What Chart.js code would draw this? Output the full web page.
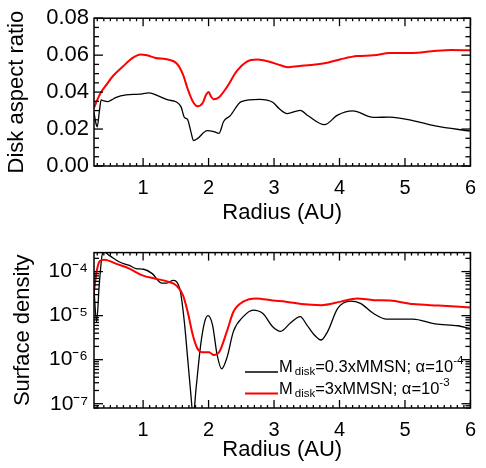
<!DOCTYPE html>
<html>
<head>
<meta charset="utf-8">
<script src="https://cdn.jsdelivr.net/npm/chart.js@4/dist/chart.umd.min.js"></script>
<style>
  body { margin: 0; background: #fff; }
  .panel { position: absolute; left: 0; width: 486px; height: 234px; }
</style>
</head>
<body>
<div class="panel" style="top:0"><canvas id="aspectChart" width="486" height="234"></canvas></div>
<div class="panel" style="top:234px"><canvas id="densityChart" width="486" height="234"></canvas></div>
<script>
// radius ticks (AU)
const radiusTicks = [1, 2, 3, 4, 5, 6];
const aspectTicks = [0, 0.02, 0.04, 0.06, 0.08];
const densityTicks = [1e-7, 1e-6, 1e-5, 1e-4];

// disk aspect ratio, M = 0.3 MMSN, alpha = 1e-4 (black)
const aspectRLow = [0.25, 0.28, 0.30, 0.33, 0.36, 0.40, 0.46, 0.52, 0.59, 0.74, 0.94, 1.09, 1.24, 1.38, 1.51, 1.58, 1.63, 1.68, 1.73, 1.77, 1.83, 1.98, 2.08, 2.16, 2.23, 2.33, 2.50, 2.78, 2.98, 3.08, 3.20, 3.40, 3.52, 3.77, 3.97, 4.20, 4.52, 4.77, 5.12, 5.46, 6.00];
const aspectLow = [0.0289, 0.0230, 0.0212, 0.0290, 0.0358, 0.0352, 0.0348, 0.0358, 0.0372, 0.0385, 0.0389, 0.0396, 0.0378, 0.0358, 0.0346, 0.0320, 0.0263, 0.0251, 0.0186, 0.0138, 0.0148, 0.0191, 0.0186, 0.0177, 0.0241, 0.0272, 0.0349, 0.0361, 0.0345, 0.0310, 0.0284, 0.0301, 0.0272, 0.0224, 0.0275, 0.0298, 0.0263, 0.0265, 0.0246, 0.0217, 0.0189];

// disk aspect ratio, M = 3 MMSN, alpha = 1e-3 (red)
const aspectRHigh = [0.25, 0.30, 0.36, 0.45, 0.54, 0.69, 0.84, 0.96, 1.06, 1.19, 1.38, 1.51, 1.61, 1.68, 1.76, 1.83, 1.91, 1.96, 2.00, 2.04, 2.08, 2.16, 2.28, 2.43, 2.58, 2.75, 2.93, 3.10, 3.22, 3.42, 3.77, 4.02, 4.27, 4.52, 4.77, 5.12, 5.41, 5.71, 6.00];
const aspectHigh = [0.0315, 0.0358, 0.0400, 0.0445, 0.0487, 0.0538, 0.0585, 0.0604, 0.0599, 0.0585, 0.0576, 0.0556, 0.0495, 0.0418, 0.0349, 0.0323, 0.0341, 0.0384, 0.0401, 0.0375, 0.0361, 0.0372, 0.0427, 0.0513, 0.0564, 0.0576, 0.0564, 0.0545, 0.0535, 0.0542, 0.0556, 0.0578, 0.0595, 0.0599, 0.0611, 0.0612, 0.0621, 0.0628, 0.0626];

// surface density, black
const densityRLow = [0.25, 0.29, 0.33, 0.37, 0.40, 0.49, 0.64, 0.79, 0.89, 1.01, 1.14, 1.28, 1.36, 1.46, 1.51, 1.57, 1.63, 1.68, 1.73, 1.765, 1.81, 1.88, 1.94, 1.99, 2.06, 2.13, 2.20, 2.28, 2.38, 2.53, 2.68, 2.83, 2.98, 3.10, 3.25, 3.40, 3.50, 3.62, 3.72, 3.82, 3.97, 4.17, 4.32, 4.52, 4.72, 5.12, 5.46, 5.81, 6.00];
const densityLow = [3.8e-5, 7.2e-6, 5e-5, 2.2e-4, 2.8e-4, 2.3e-4, 1.65e-4, 1.38e-4, 1.17e-4, 1.13e-4, 9e-5, 5.5e-5, 5.5e-5, 6.3e-5, 5.9e-5, 3.5e-5, 7.2e-6, 1.1e-6, 1.6e-7, 5e-8, 2.3e-7, 2.2e-6, 7.2e-6, 1.0e-5, 6.2e-6, 1.3e-6, 6.2e-7, 1.1e-6, 4.4e-6, 9.5e-6, 1.34e-5, 1.12e-5, 5.6e-6, 4.4e-6, 6.8e-6, 9.5e-6, 6.2e-6, 3.6e-6, 2.8e-6, 4.4e-6, 1.45e-5, 2.14e-5, 1.9e-5, 1.12e-5, 8.3e-6, 8.3e-6, 6.5e-6, 5.9e-6, 5.1e-6];

// surface density, red
const densityRHigh = [0.25, 0.29, 0.34, 0.41, 0.59, 0.79, 0.99, 1.19, 1.38, 1.51, 1.61, 1.68, 1.76, 1.83, 1.91, 2.01, 2.08, 2.16, 2.28, 2.38, 2.53, 2.73, 2.98, 3.18, 3.42, 3.72, 4.02, 4.27, 4.52, 4.77, 5.12, 5.51, 6.00];
const densityHigh = [3.5e-5, 1.0e-4, 1.74e-4, 1.87e-4, 1.5e-4, 1.17e-4, 8.2e-5, 6.9e-5, 5.9e-5, 4.8e-5, 2.9e-5, 1.24e-5, 3.6e-6, 1.8e-6, 1.47e-6, 1.47e-6, 1.28e-6, 1.47e-6, 4.4e-6, 1.23e-5, 2.08e-5, 2.46e-5, 2.2e-5, 2.08e-5, 1.83e-5, 1.73e-5, 2.08e-5, 2.46e-5, 2.25e-5, 2.2e-5, 1.83e-5, 1.69e-5, 1.54e-5];

// legend text pieces: [main, subscript, main, superscript]
const legendLow = ['M', 'disk', '=0.3xMMSN; \u03b1=10', '-4'];
const legendHigh = ['M', 'disk', '=3xMMSN; \u03b1=10', '-3'];

const FONT = "'Liberation Sans', Arial, Helvetica, sans-serif";
const SUP = { '-': '\u207b', '0': '\u2070', '1': '\u00b9', '2': '\u00b2', '3': '\u00b3', '4': '\u2074', '5': '\u2075', '6': '\u2076', '7': '\u2077', '8': '\u2078', '9': '\u2079' };

function zip(xs, ys) {
  return xs.map((x, i) => ({ x: x, y: ys[i] }));
}

function line(ctx, x1, y1, x2, y2) {
  ctx.beginPath();
  ctx.moveTo(x1, y1);
  ctx.lineTo(x2, y2);
  ctx.stroke();
}

// box around the plot with inward ticks like the original
const frame = {
  id: 'frame',
  afterDraw(chart, args, opts) {
    const { ctx, chartArea: a, scales: { x, y } } = chart;
    ctx.save();
    ctx.strokeStyle = '#000';
    ctx.lineWidth = 1.3;
    for (let i = Math.ceil(x.min * 10); i <= Math.floor(x.max * 10 + 1e-6); i++) {
      const px = x.getPixelForValue(i / 10);
      const len = i % 10 === 0 ? 8 : 3;
      line(ctx, px, a.bottom, px, a.bottom - len);
      line(ctx, px, a.top, px, a.top + len);
    }
    for (const t of opts.yTicks(y)) {
      const py = y.getPixelForValue(t.v);
      if (py < a.top - 0.5 || py > a.bottom + 0.5) continue;
      const len = t.major ? 9 : 5;
      line(ctx, a.left, py, a.left + len, py);
      line(ctx, a.right, py, a.right - len, py);
    }
    ctx.lineWidth = 1.5;
    ctx.strokeRect(a.left, a.top, a.right - a.left, a.bottom - a.top);
    ctx.restore();
  }
};

// legend with sub/superscripts, drawn inside the lower panel
const richLegend = {
  id: 'richLegend',
  afterDraw(chart, args, opts) {
    if (!opts.rows) return;
    const ctx = chart.ctx;
    ctx.save();
    opts.rows.forEach((row, i) => {
      const y = opts.y + i * opts.gap;
      ctx.strokeStyle = row.color;
      ctx.lineWidth = row.width;
      line(ctx, opts.x, y, opts.x + opts.len, y);
      ctx.fillStyle = '#000';
      ctx.textBaseline = 'alphabetic';
      let x = opts.x + opts.len + 1;
      const p = row.text;
      ctx.font = '16.5px ' + FONT;
      ctx.fillText(p[0], x, y);
      x += ctx.measureText(p[0]).width + 2;
      ctx.font = '11.5px ' + FONT;
      ctx.fillText(p[1], x, y + 3);
      x += ctx.measureText(p[1]).width;
      ctx.font = '16.5px ' + FONT;
      ctx.fillText(p[2], x, y);
      x += ctx.measureText(p[2]).width;
      ctx.font = '11.5px ' + FONT;
      ctx.fillText(p[3], x, y - 8);
    });
    ctx.restore();
  }
};

function radiusAxis(titlePad) {
  return {
    type: 'linear',
    min: 0.25,
    max: 6,
    afterBuildTicks: s => { s.ticks = radiusTicks.map(v => ({ value: v })); },
    afterFit: s => { s.height = s.options.fitHeight; },
    grid: { display: false, drawTicks: false },
    border: { display: false },
    ticks: { color: '#000', font: { family: FONT, size: 20 }, padding: 10, maxRotation: 0 },
    title: { display: true, text: 'Radius (AU)', color: '#000', font: { family: FONT, size: 22, lineHeight: 1 }, padding: { top: 0, bottom: titlePad } }
  };
}

const aspectX = radiusAxis(10);
aspectX.fitHeight = 68;

new Chart(document.getElementById('aspectChart'), {
  type: 'line',
  data: {
    datasets: [
      { label: 'M_disk=0.3xMMSN; alpha=1e-4', data: zip(aspectRLow, aspectLow), borderColor: '#000', borderWidth: 1.3, order: 1 },
      { label: 'M_disk=3xMMSN; alpha=1e-3', data: zip(aspectRHigh, aspectHigh), borderColor: '#ff0000', borderWidth: 2, order: 0 }
    ]
  },
  options: {
    responsive: false,
    animation: false,
    devicePixelRatio: 1,
    layout: { padding: { top: 11, right: 7, left: 0, bottom: 0 } },
    elements: { point: { radius: 0 }, line: { cubicInterpolationMode: 'monotone' } },
    plugins: {
      legend: { display: false },
      tooltip: { enabled: false },
      frame: {
        yTicks: () => {
          const out = [];
          for (let i = 0; i <= 16; i++) out.push({ v: i * 0.005, major: i % 4 === 0 });
          return out;
        }
      }
    },
    scales: {
      x: aspectX,
      y: {
        type: 'linear',
        min: 0,
        max: 0.08,
        afterBuildTicks: s => { s.ticks = aspectTicks.map(v => ({ value: v })); },
        afterFit: s => { s.width = 94; },
        grid: { display: false, drawTicks: false },
        border: { display: false },
        ticks: { color: '#000', font: { family: FONT, size: 22 }, padding: 5, callback: v => v.toFixed(2) },
        title: { display: true, text: 'Disk aspect ratio', color: '#000', font: { family: FONT, size: 22, lineHeight: 1 }, padding: { top: 6, bottom: 0 } }
      }
    }
  },
  plugins: [frame]
});

const densityX = radiusAxis(7);
densityX.fitHeight = 60;

new Chart(document.getElementById('densityChart'), {
  type: 'line',
  data: {
    datasets: [
      { label: 'M_disk=0.3xMMSN; alpha=1e-4', data: zip(densityRLow, densityLow), borderColor: '#000', borderWidth: 1.3, order: 1 },
      { label: 'M_disk=3xMMSN; alpha=1e-3', data: zip(densityRHigh, densityHigh), borderColor: '#ff0000', borderWidth: 2, order: 0 }
    ]
  },
  options: {
    responsive: false,
    animation: false,
    devicePixelRatio: 1,
    layout: { padding: { top: 18, right: 7, left: 0, bottom: 0 } },
    elements: { point: { radius: 0 }, line: { cubicInterpolationMode: 'monotone' } },
    plugins: {
      legend: { display: false },
      tooltip: { enabled: false },
      frame: {
        yTicks: () => {
          const out = [];
          for (let k = -8; k <= -4; k++) {
            for (let m = 1; m <= 9; m++) out.push({ v: m * Math.pow(10, k), major: m === 1 });
          }
          return out;
        }
      },
      richLegend: {
        x: 245, y: 138, gap: 21.5, len: 33,
        rows: [
          { color: '#000', width: 1.3, text: legendLow },
          { color: '#ff0000', width: 2, text: legendHigh }
        ]
      }
    },
    scales: {
      x: densityX,
      y: {
        type: 'logarithmic',
        min: 8e-8,
        max: 2.7e-4,
        afterBuildTicks: s => { s.ticks = densityTicks.map(v => ({ value: v })); },
        afterFit: s => { s.width = 94; },
        grid: { display: false, drawTicks: false },
        border: { display: false },
        ticks: {
          color: '#000',
          font: { family: FONT, size: 21 },
          padding: 6,
          callback: v => '10' + String(Math.round(Math.log10(v))).split('').map(c => SUP[c]).join('')
        },
        title: { display: true, text: 'Surface density', color: '#000', font: { family: FONT, size: 22, lineHeight: 1 }, padding: { top: 12, bottom: 0 } }
      }
    }
  },
  plugins: [frame, richLegend]
});
</script>
</body>
</html>
